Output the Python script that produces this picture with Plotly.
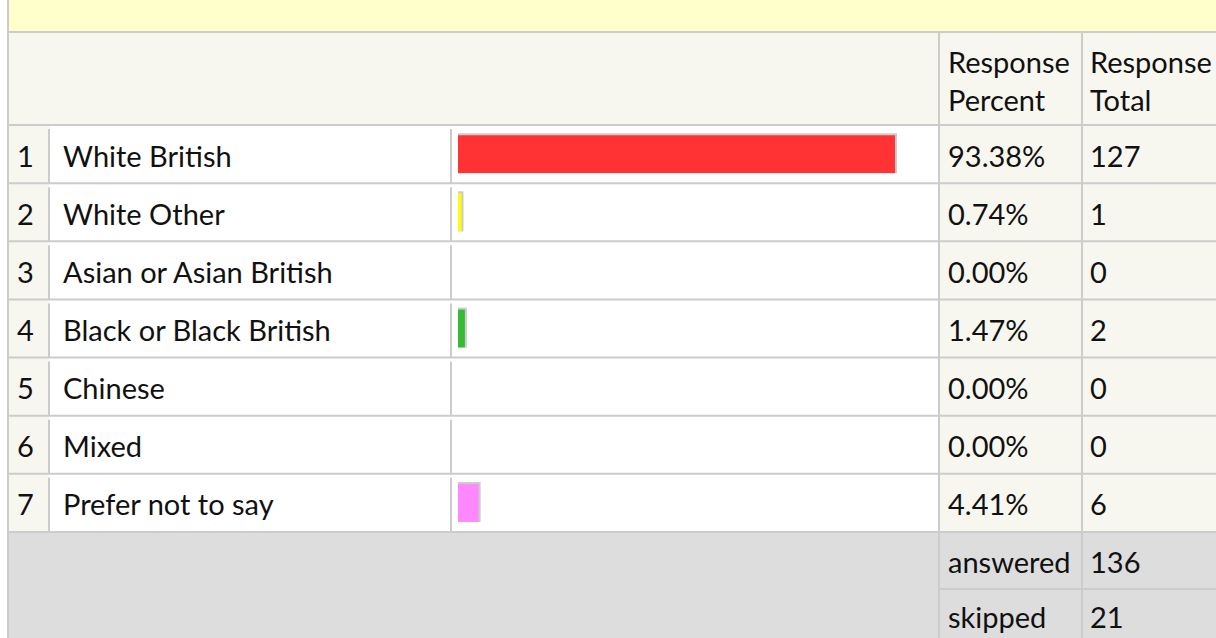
"""Survey response table with inline percentage bars."""

from plotly import graph_objects as go

W, H = 1216, 638

answers = [
    "White British",
    "White Other",
    "Asian or Asian British",
    "Black or Black British",
    "Chinese",
    "Mixed",
    "Prefer not to say",
]
percent = [93.38, 0.74, 0.00, 1.47, 0.00, 0.00, 4.41]
totals = [127, 1, 0, 2, 0, 0, 6]
bar_colors = ["#ff3333", "#ffff00", "#ffffff", "#33bb33", "#ffffff", "#ffffff", "#ff88ff"]
answered = 136
skipped = 21

FONT = dict(family="Lato, 'Open Sans', sans-serif", size=29, color="#111111")
LINE = "#cccccc"
BEIGE = "#f7f7f0"

# table geometry in page pixels
TOP_BAND = 32
HEAD_TOP, BODY_TOP, BODY_BOTTOM = 33, 125, 532
FOOT_MID = 589
COL_X = [8, 49, 451, 939, 1082, 1216]
row_h = (BODY_BOTTOM - BODY_TOP) / len(answers)


def rect(x0, y0, x1, y1, fill):
    return dict(
        type="rect", xref="x", yref="y", x0=x0, y0=y0, x1=x1, y1=y1,
        fillcolor=fill, line=dict(width=0), layer="below",
    )


def hline(x0, x1, y):
    return dict(type="line", xref="x", yref="y", x0=x0, x1=x1, y0=y, y1=y,
                line=dict(color=LINE, width=2), layer="below")


def vline(x, y0, y1):
    return dict(type="line", xref="x", yref="y", x0=x, x1=x, y0=y0, y1=y1,
                line=dict(color=LINE, width=2), layer="below")


shapes = [
    rect(COL_X[0], 0, W, TOP_BAND, "#ffffcc"),
    rect(COL_X[0], HEAD_TOP, W, BODY_TOP, BEIGE),
    rect(COL_X[0], BODY_TOP, COL_X[1], BODY_BOTTOM, BEIGE),
    rect(COL_X[1], BODY_TOP, COL_X[3], BODY_BOTTOM, "#ffffff"),
    rect(COL_X[3], BODY_TOP, W, BODY_BOTTOM, BEIGE),
    rect(COL_X[0], BODY_BOTTOM, W, H, "#dddddd"),
    vline(COL_X[0], 0, H),
    hline(COL_X[0], W, HEAD_TOP - 1),
    hline(COL_X[0], W, BODY_TOP),
    vline(COL_X[3], HEAD_TOP, H),
    vline(COL_X[4], HEAD_TOP, H),
    hline(COL_X[3], W, FOOT_MID),
]
for i in range(len(answers)):
    y0 = BODY_TOP + i * row_h
    shapes.append(hline(COL_X[0], W, y0 + row_h))
    shapes.append(vline(COL_X[1], y0 + 4, y0 + row_h))
    shapes.append(vline(COL_X[2], y0 + 4, y0 + row_h))

annotations = []


def label(x, y, text):
    annotations.append(dict(
        xref="x", yref="y", x=x, y=y, text=text, showarrow=False,
        xanchor="left", yanchor="middle", align="left", font=FONT,
    ))


label(946, 80, "Response<br>Percent")
label(1088, 80, "Response<br>Total")
for i, name in enumerate(answers):
    yc = BODY_TOP + (i + 0.5) * row_h + 1
    label(15, yc, str(i + 1))
    label(61, yc, name)
    label(946, yc, f"{percent[i]:.2f}%")
    label(1088, yc, str(totals[i]))
label(946, 561, "answered")
label(1088, 561, str(answered))
label(946, 616, "skipped")
label(1088, 616, str(skipped))

fig = go.Figure()

# shadow behind each bar (top and right edge)
shadow = [p + 0.43 if p > 0 else 0 for p in percent]
fig.add_trace(go.Bar(
    x=shadow, y=answers, orientation="h", xaxis="x2", yaxis="y2",
    marker=dict(color="#cccccc", line=dict(width=0)),
    width=0.69, offset=-0.36, hoverinfo="skip",
))
fig.add_trace(go.Bar(
    x=percent, y=answers, orientation="h", xaxis="x2", yaxis="y2",
    marker=dict(color=bar_colors, line=dict(width=0)),
    width=0.65, offset=-0.325, hoverinfo="skip",
))

fig.update_layout(
    width=W, height=H,
    margin=dict(l=0, r=0, t=0, b=0),
    paper_bgcolor="#ffffff", plot_bgcolor="rgba(0,0,0,0)",
    showlegend=False, barmode="overlay",
    shapes=shapes, annotations=annotations,
    xaxis=dict(range=[0, W], visible=False, fixedrange=True),
    yaxis=dict(range=[H, 0], visible=False, fixedrange=True),
    xaxis2=dict(domain=[458 / W, 926 / W], range=[0, 100], visible=False,
                anchor="y2"),
    yaxis2=dict(domain=[1 - BODY_BOTTOM / H, 1 - BODY_TOP / H],
                categoryorder="array", categoryarray=answers,
                range=[len(answers) - 0.5, -0.5], visible=False, anchor="x2"),
)

fig.write_html(
    "out.html",
    config={"displayModeBar": False},
    post_script="document.body.style.margin='0';",
)
